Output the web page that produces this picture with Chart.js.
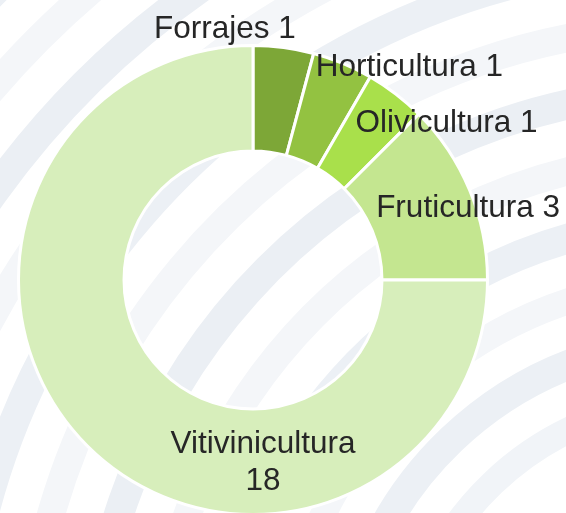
<!DOCTYPE html>
<html>
<head>
<meta charset="utf-8">
<script src="https://cdn.jsdelivr.net/npm/chart.js@4.4.1/dist/chart.umd.min.js"></script>
<style>
  html, body { margin: 0; padding: 0; background: #ffffff; overflow: hidden; }
  #wrap { position: relative; width: 566px; height: 520px; }
</style>
</head>
<body>
<div id="wrap"><canvas id="c"></canvas></div>
<script>
const categories = ['Forrajes', 'Horticultura', 'Olivicultura', 'Fruticultura', 'Vitivinicultura'];
const values = [1, 1, 1, 3, 18];
const sliceColors = ['#7DA737', '#93C241', '#A9E04B', '#C4E690', '#D7EEBB'];

// label placement relative to the doughnut centre, in units of the outer radius
const labelAnchors = [
  [-0.120, -1.068],
  [0.667, -0.906],
  [0.825, -0.668],
  [0.917, -0.305],
  [0.043, 0.778]
];

const backgroundArt = {
  id: 'backgroundArt',
  beforeDraw(chart) {
    const ctx = chart.ctx;
    ctx.save();
    ctx.fillStyle = '#ffffff';
    ctx.fillRect(0, 0, chart.width, chart.height);
    const cx = 700, cy = 700;
    const bands = [
      [300, 26, '#f1f4f8', 3.55, 4.35],
      [360, 30, '#ecf0f5', 3.45, 4.45],
      [420, 26, '#f4f6f9', 3.30, 4.50],
      [480, 30, '#ecf0f5', 3.20, 4.55],
      [545, 28, '#f4f6f9', 3.15, 4.60],
      [610, 30, '#ebeff4', 3.10, 4.65],
      [675, 28, '#f4f6f9', 3.05, 4.68],
      [740, 30, '#ecf0f5', 3.02, 4.70],
      [805, 28, '#f4f6f9', 3.00, 4.72],
      [870, 30, '#ebeff4', 2.98, 4.74],
      [935, 28, '#f4f6f9', 2.96, 4.76],
      [1000, 30, '#ecf0f5', 2.95, 4.78]
    ];
    ctx.lineCap = 'round';
    bands.forEach(b => {
      ctx.beginPath();
      ctx.strokeStyle = b[2];
      ctx.lineWidth = b[1];
      ctx.arc(cx, cy, b[0], b[3], b[4]);
      ctx.stroke();
    });
    ctx.restore();
  }
};

const sliceLabels = {
  id: 'sliceLabels',
  afterDatasetsDraw(chart) {
    const ctx = chart.ctx;
    const meta = chart.getDatasetMeta(0);
    ctx.save();
    ctx.font = '31.5px "Liberation Sans", Arial, sans-serif';
    ctx.fillStyle = '#262626';
    ctx.textAlign = 'center';
    ctx.textBaseline = 'middle';
    meta.data.forEach((arc, i) => {
      const r = arc.outerRadius;
      const x = arc.x + labelAnchors[i][0] * r;
      const y = arc.y + labelAnchors[i][1] * r;
      const v = chart.data.datasets[0].data[i];
      const name = chart.data.labels[i];
      const lines = (i === categories.length - 1) ? [name, String(v)] : [name + ' ' + v];
      const lh = 37;
      const y0 = y - (lines.length - 1) * lh / 2;
      lines.forEach((t, k) => ctx.fillText(t, x, y0 + k * lh));
    });
    ctx.restore();
  }
};

new Chart(document.getElementById('c'), {
  type: 'doughnut',
  data: {
    labels: categories,
    datasets: [{
      data: values,
      backgroundColor: sliceColors,
      borderColor: '#ffffff',
      borderWidth: 3,
      hoverOffset: 0
    }]
  },
  options: {
    responsive: true,
    maintainAspectRatio: false,
    animation: false,
    cutout: '55%',
    layout: { padding: { left: 17, right: 77, top: 44, bottom: 4 } },
    plugins: {
      legend: { display: false },
      tooltip: { enabled: false }
    }
  },
  plugins: [backgroundArt, sliceLabels]
});
</script>
</body>
</html>
